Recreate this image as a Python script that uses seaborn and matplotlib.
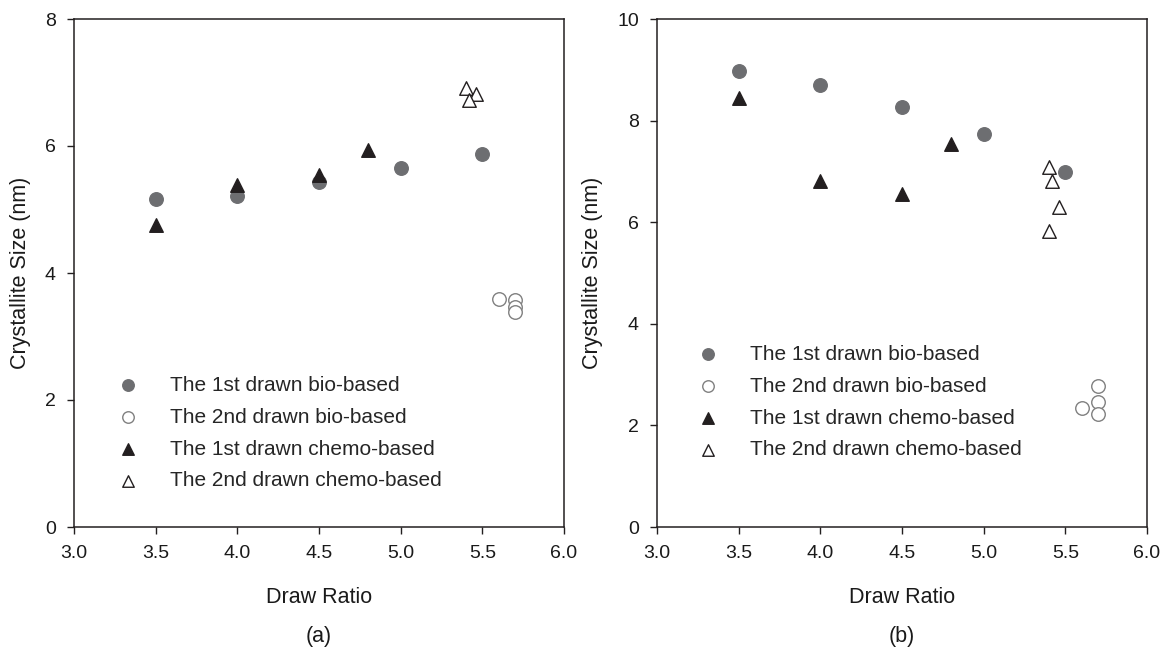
import pandas as pd
import seaborn as sns
import matplotlib.pyplot as plt

sns.set_style("ticks")
plt.rcParams["font.family"] = ["Liberation Sans", "DejaVu Sans"]

# Panel (a) data
a_bio1_x = [3.5, 4.0, 4.5, 5.0, 5.5]
a_bio1_y = [5.16, 5.22, 5.44, 5.65, 5.87]
a_bio2_x = [5.6, 5.7, 5.7, 5.7]
a_bio2_y = [3.59, 3.57, 3.47, 3.38]
a_chem1_x = [3.5, 4.0, 4.5, 4.8]
a_chem1_y = [4.76, 5.38, 5.55, 5.94]
a_chem2_x = [5.40, 5.46, 5.42]
a_chem2_y = [6.91, 6.82, 6.72]

# Panel (b) data
b_bio1_x = [3.5, 4.0, 4.5, 5.0, 5.5]
b_bio1_y = [8.98, 8.71, 8.26, 7.74, 6.99]
b_bio2_x = [5.7, 5.7, 5.7, 5.6]
b_bio2_y = [2.78, 2.47, 2.22, 2.35]
b_chem1_x = [3.5, 4.0, 4.5, 4.8]
b_chem1_y = [8.44, 6.81, 6.56, 7.53]
b_chem2_x = [5.40, 5.42, 5.46, 5.40]
b_chem2_y = [7.09, 6.82, 6.29, 5.83]

labels = ["The 1st drawn bio-based", "The 2nd drawn bio-based",
          "The 1st drawn chemo-based", "The 2nd drawn chemo-based"]

# estilo de cada serie: marcador, relleno, borde
estilos = [
    dict(marker="o", color="#6d6e71", edgecolor="#6d6e71", s=95),
    dict(marker="o", color="white", edgecolor="#808080", s=95),
    dict(marker="^", color="#231f20", edgecolor="#231f20", s=95),
    dict(marker="^", color="white", edgecolor="#231f20", s=95),
]

fig = plt.figure(figsize=(11.68, 6.57), dpi=100)
ax_a = fig.add_axes([74 / 1168, 1 - 527 / 657, 490 / 1168, 508 / 657])
ax_b = fig.add_axes([657 / 1168, 1 - 527 / 657, 490 / 1168, 508 / 657])

paneles = [
    (ax_a, [(a_bio1_x, a_bio1_y), (a_bio2_x, a_bio2_y), (a_chem1_x, a_chem1_y), (a_chem2_x, a_chem2_y)],
     8, [0, 2, 4, 6, 8], "(a)", (0.03, 0.035)),
    (ax_b, [(b_bio1_x, b_bio1_y), (b_bio2_x, b_bio2_y), (b_chem1_x, b_chem1_y), (b_chem2_x, b_chem2_y)],
     10, [0, 2, 4, 6, 8, 10], "(b)", (0.024, 0.096)),
]

for ax, series, ymax, yticks, tag, legpos in paneles:
    for (xs, ys), lab, est in zip(series, labels, estilos):
        df = pd.DataFrame({"x": xs, "y": ys})
        sns.scatterplot(data=df, x="x", y="y", ax=ax, label=lab,
                        marker=est["marker"], color=est["color"],
                        edgecolor=est["edgecolor"], linewidth=1.0, s=est["s"])
    ax.set_xlim(3.0, 6.0)
    ax.set_ylim(0, ymax)
    ax.set_xticks([3.0, 3.5, 4.0, 4.5, 5.0, 5.5, 6.0])
    ax.set_xticklabels(["3.0", "3.5", "4.0", "4.5", "5.0", "5.5", "6.0"])
    ax.set_yticks(yticks)
    ax.tick_params(direction="out", length=5, width=1, labelsize=14, colors="#231f20",
                   labelcolor="#1a1a1a", top=False, right=False, pad=8)
    for sp in ax.spines.values():
        sp.set_linewidth(1.1)
        sp.set_color("#231f20")
    ax.set_xlabel("Draw Ratio", fontsize=15.5, color="#1a1a1a", labelpad=18)
    ax.set_ylabel("Crystallite Size (nm)", fontsize=15.5, color="#1a1a1a", labelpad=10)
    ax.text(0.5, -0.215, tag, transform=ax.transAxes, ha="center", va="center",
            fontsize=15.5, color="#1a1a1a")
    ax.legend(loc="lower left", bbox_to_anchor=legpos, frameon=False, fontsize=15,
              handletextpad=1.0, labelspacing=0.62, markerscale=0.85)

fig.savefig("out.png", dpi=100)
